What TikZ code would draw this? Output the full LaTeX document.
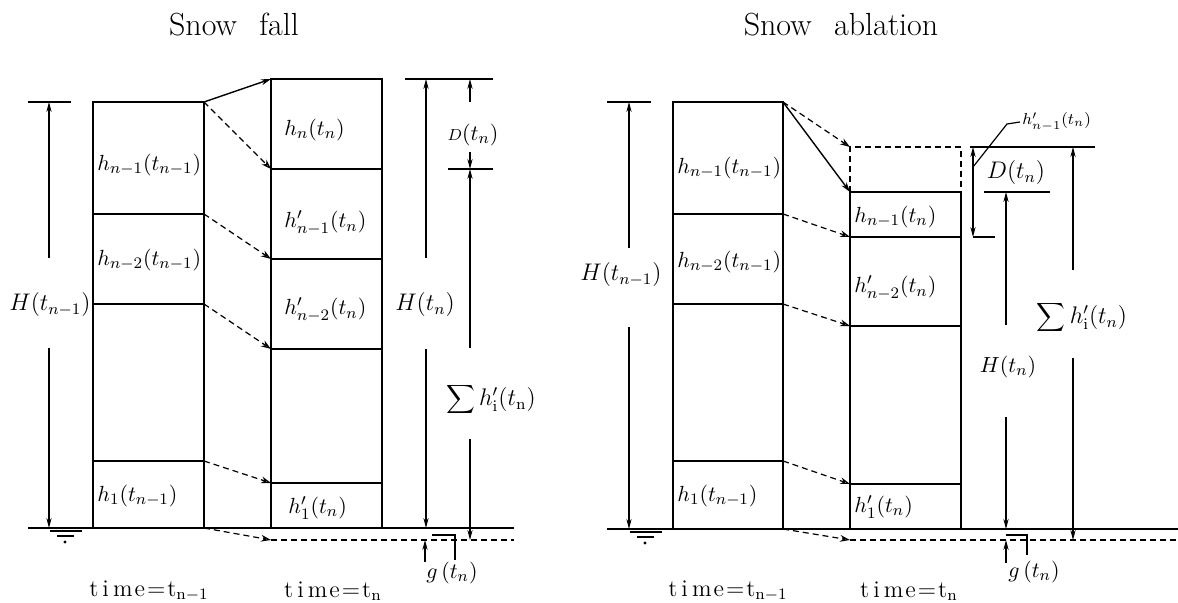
\documentclass[tikz,border=0pt]{standalone}
\usepackage{tikz}
\usetikzlibrary{arrows.meta}
\tikzstyle{couche}=[line width=0.8pt]
\tikzstyle{cote}=[-{Stealth[length=5pt,width=2.6pt]},line width=0.6pt]
\tikzstyle{fleche}=[-{Stealth[length=5pt,width=3pt]},line width=0.7pt]
\tikzstyle{flechetir}=[-{Stealth[open,length=5pt,width=3.4pt]},line width=0.6pt,
  dash pattern=on 3pt off 2pt]
\tikzstyle{tiret}=[line width=0.7pt,dash pattern=on 3pt off 2pt]
\tikzstyle{etiq}=[inner sep=1pt,font=\fontsize{11}{13}\selectfont]
\tikzstyle{grand}=[inner sep=1pt,font=\fontsize{12}{14}\selectfont]
\tikzstyle{titre}=[inner sep=1pt,font=\fontsize{16}{19}\selectfont]
\tikzstyle{temps}=[inner sep=1pt,font=\fontsize{12}{14}\selectfont]
\newcommand{\tps}[1]{t\hspace{2pt}i\hspace{2pt}m\hspace{1pt}e\hspace{1pt}=\hspace{1pt}t$_{\mathrm{#1}}$}

\begin{document}
\begin{tikzpicture}[x=0.5pt,y=-0.5pt]
  \useasboundingbox (0,0) rectangle (1178,603);

  % Titres
  \node[titre] (tfall) at (234,25) {Snow\hspace{0.7em}fall};
  \node[titre] (tabl)  at (841,25) {Snow\hspace{0.7em}ablation};

  % Chute de neige : colonne t_{n-1}
  \draw[couche] (93,102) rectangle (204,528);
  \foreach \y in {214,304,461} \draw[couche] (93,\y) -- (204,\y);
  \node[etiq,anchor=west] (fa1) at (95,165) {$h_{n-1}(t_{n-1})$};
  \node[etiq,anchor=west] (fa2) at (95,260) {$h_{n-2}(t_{n-1})$};
  \node[etiq,anchor=west] (fa3) at (95,496) {$h_1(t_{n-1})$};

  % Chute de neige : colonne t_n
  \draw[couche] (271,79) rectangle (382,528);
  \foreach \y in {169,259,349,483} \draw[couche] (271,\y) -- (382,\y);
  \node[etiq,anchor=west] (fb0) at (282,130) {$h_n(t_n)$};
  \node[etiq,anchor=west] (fb1) at (282,223) {$h'_{n-1}(t_n)$};
  \node[etiq,anchor=west] (fb2) at (282,310) {$h'_{n-2}(t_n)$};
  \node[etiq,anchor=west] (fb3) at (286,508) {$h'_1(t_n)$};

  % Sol
  \draw[couche] (28,528) -- (514,528);
  \draw[tiret] (271,540) -- (514,540);
  \draw[line width=0.6pt] (50,531) -- (82,531) (57,536) -- (74,536);
  \fill (65,542) circle (0.8pt);

  % Fleches
  \coordinate (fh0) at (204,102);
  \coordinate (fn0) at (271,79);
  \draw[fleche] (fh0) -- (fn0);
  \foreach \ya/\yb [count=\i] in {102/169,214/259,304/349,461/483,528/540}{
    \coordinate (fh\i) at (204,\ya);
    \coordinate (fn\i) at (271,\yb);
    \draw[flechetir] (fh\i) -- (fn\i);
  }

  % Cotes a gauche
  \draw[couche] (28,102) -- (71,102);
  \node[grand] (fH1) at (50,305) {$H(t_{n-1})$};
  \coordinate (fH1h) at (49,102);
  \coordinate (fH1b) at (49,528);
  \draw[cote] (49,258) -- (fH1h);
  \draw[cote] (49,348) -- (fH1b);

  % Cotes a droite
  \draw[couche] (405,79) -- (493,79);
  \draw[couche] (448,169) -- (493,169);
  \node[grand] (fH) at (425,305) {$H(t_n)$};
  \coordinate (fHh) at (426,79);
  \coordinate (fHb) at (426,528);
  \draw[cote] (426,258) -- (fHh);
  \draw[cote] (426,349) -- (fHb);
  \node[etiq] (fD) at (473,135) {${\scriptstyle D}(t_n)$};
  \coordinate (fDh) at (470,79);
  \coordinate (fDb) at (470,169);
  \draw[cote] (470,102) -- (fDh);
  \draw[cote] (470,152) -- (fDb);
  \node[grand] (fS) at (491,400) {$\displaystyle\sum h'_{\mathrm{i}}(t_{\mathrm{n}})$};
  \coordinate (fSb) at (470,540);
  \draw[cote] (470,348) -- (fDb);
  \draw[cote] (470,439) -- (fSb);
  \node[etiq] (fg) at (452,573) {$g\,(t_n)$};
  \coordinate (fgh) at (425,540);
  \draw[cote] (425,562) -- (fgh);
  \draw[line width=0.6pt] (432,535) -- (455,535) -- (455,560);

  \node[temps] (ft1) at (149,591) {\tps{n-1}};
  \node[temps] (ft2) at (333,591) {\tps{n}};

  % Fonte de neige : colonne t_{n-1}
  \draw[couche] (673,102) rectangle (783,529);
  \foreach \y in {214,304,461} \draw[couche] (673,\y) -- (783,\y);
  \node[etiq,anchor=west] (aa1) at (675,168) {$h_{n-1}(t_{n-1})$};
  \node[etiq,anchor=west] (aa2) at (675,262) {$h_{n-2}(t_{n-1})$};
  \node[etiq,anchor=west] (aa3) at (675,496) {$h_1(t_{n-1})$};

  % Fonte de neige : colonne t_n
  \draw[couche] (850,192) rectangle (961,529);
  \foreach \y in {237,326,484} \draw[couche] (850,\y) -- (961,\y);
  \draw[tiret] (850,192) -- (850,147) -- (961,147) -- (961,192);
  \node[etiq,anchor=west] (ab1) at (852,217) {$h_{n-1}(t_n)$};
  \node[etiq,anchor=west] (ab2) at (852,288) {$h'_{n-2}(t_n)$};
  \node[etiq,anchor=west] (ab3) at (852,507) {$h'_1(t_n)$};

  % Sol
  \draw[couche] (607,529) -- (1178,529);
  \draw[tiret] (850,540) -- (1178,540);
  \draw[line width=0.6pt] (630,532) -- (662,532) (637,537) -- (654,537);
  \fill (645,543) circle (0.8pt);

  % Fleches
  \coordinate (ah0) at (783,102);
  \coordinate (an0) at (850,192);
  \draw[fleche] (ah0) -- (an0);
  \foreach \ya/\yb [count=\i] in {102/147,214/237,304/326,461/484,529/540}{
    \coordinate (ah\i) at (783,\ya);
    \coordinate (an\i) at (850,\yb);
    \draw[flechetir] (ah\i) -- (an\i);
  }

  % Cotes a gauche
  \draw[couche] (607,102) -- (651,102);
  \node[grand] (aH1) at (621,275) {$H(t_{n-1})$};
  \coordinate (aH1h) at (629,102);
  \coordinate (aH1b) at (629,529);
  \draw[cote] (629,248) -- (aH1h);
  \draw[cote] (629,327) -- (aH1b);

  % Cotes a droite
  \draw[couche] (970,147) -- (1095,147);
  \draw[couche] (973,237) -- (995,237);
  \coordinate (aDh) at (973,147);
  \coordinate (aDb) at (973,237);
  \draw[cote,{Stealth[length=5pt,width=2.6pt]}-{Stealth[length=5pt,width=2.6pt]}] (aDh) -- (aDb);
  \node[grand] (aD) at (1016,173) {$D(t_n)$};
  \draw[line width=0.6pt] (984,192) -- (1050,192);
  \node[temps,anchor=west,font=\fontsize{8}{10}\selectfont] (aL) at (1020,122) {$h'_{n-1}(t_n)$};
  \draw[line width=0.6pt] (aL.west) -- (1007,124) -- (973,167);
  \node[etiq] (aH) at (1008,367) {$H(t_n)$};
  \coordinate (aHh) at (1006,192);
  \coordinate (aHb) at (1006,529);
  \draw[cote] (1006,325) -- (aHh);
  \draw[cote] (1006,417) -- (aHb);
  \node[grand] (aS) at (1082,318) {$\displaystyle\sum h'_{\mathrm{i}}(t_n)$};
  \coordinate (aSh) at (1073,147);
  \coordinate (aSb) at (1073,540);
  \draw[cote] (1073,270) -- (aSh);
  \draw[cote] (1073,358) -- (aSb);
  \node[etiq] (ag) at (1034,572) {$g\,(t_n)$};
  \coordinate (agh) at (1006,540);
  \draw[cote] (1006,563) -- (agh);
  \draw[line width=0.6pt] (1006,535) -- (1027,535) -- (1027,555);

  \node[temps] (at1) at (728,591) {\tps{n-1}};
  \node[temps] (at2) at (909,591) {\tps{n}};

\end{tikzpicture}
\end{document}
